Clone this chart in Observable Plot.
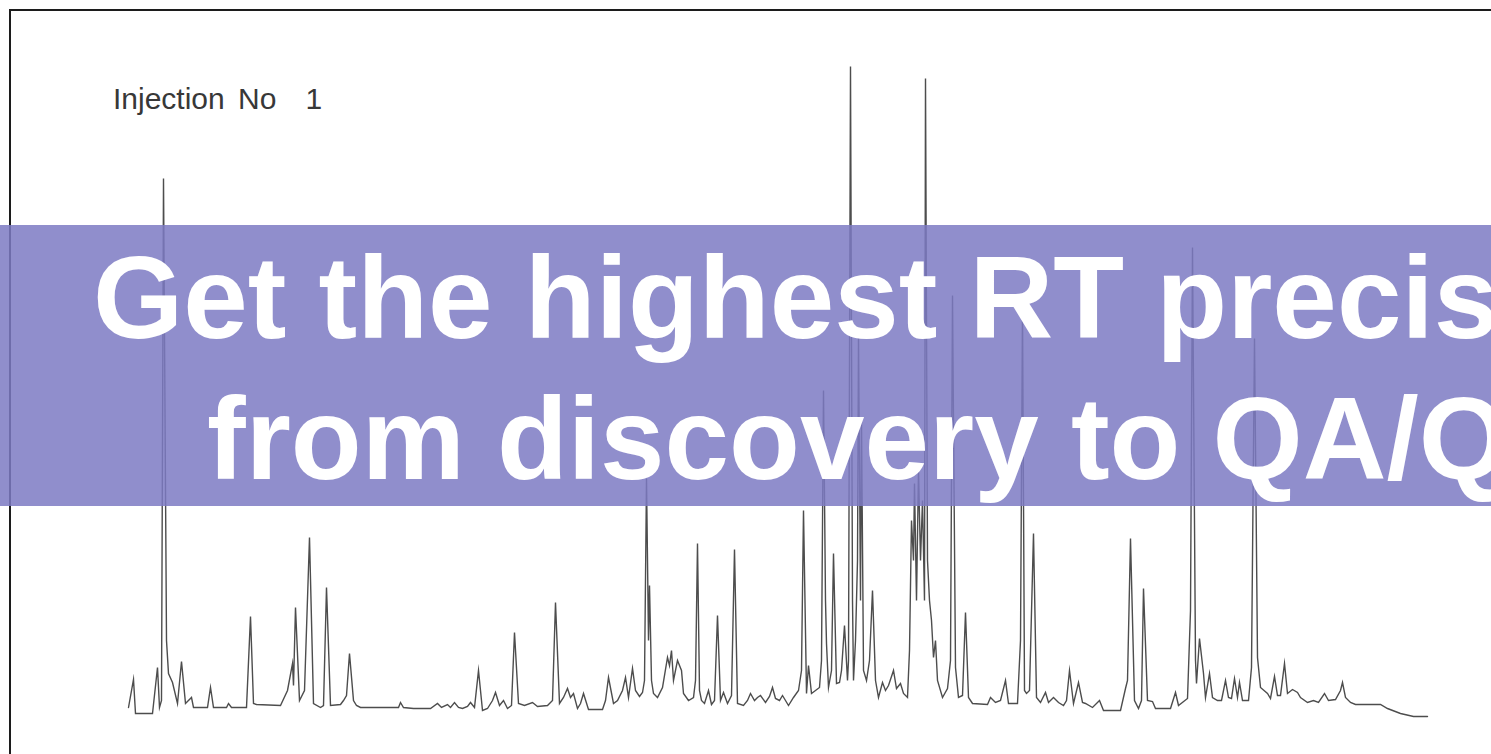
<!DOCTYPE html>
<html>
<head>
<meta charset="utf-8">
<script src="https://cdn.jsdelivr.net/npm/d3@7"></script>
<script src="https://cdn.jsdelivr.net/npm/@observablehq/plot@0.6"></script>
<style>
  html, body { margin: 0; padding: 0; background: #fff; overflow: hidden; }
  #wrap { position: relative; width: 1491px; height: 754px; overflow: hidden; }
  #chart { position: absolute; left: 0; top: 0; }
  #frame { position: absolute; left: 9px; top: 9px; width: 1600px; height: 900px;
           border-top: 2px solid #1c1c1c; border-left: 2px solid #1c1c1c; box-sizing: border-box; }
  #inj { position: absolute; left: 113px; top: 84px; font-family: "Liberation Sans", Arial, sans-serif;
         font-size: 30px; line-height: 30px; color: #383838; white-space: pre; }
  #banner { position: absolute; left: 0; top: 225px; width: 1491px; height: 281px;
            background: rgb(124,122,195); opacity: 0.85; }
  .bt { position: absolute; font-family: "Liberation Sans", Arial, sans-serif; font-weight: bold;
        font-size: 116px; line-height: 116px; color: #fff; white-space: pre; }
</style>
</head>
<body>
<div id="wrap">
  <div id="chart"></div>
  <div id="frame"></div>
  <div id="inj"></div>
  <div id="banner"></div>
  <div class="bt" id="l1"></div>
  <div class="bt" id="l2"></div>
</div>
<script>
// Retention time (min) and detector signal
const retentionTime = [
  6.40, 6.65, 6.75, 7.60, 7.85, 7.95, 8.05, 8.15, 8.30, 8.40, 8.60, 8.85, 9.05, 9.25, 9.55, 9.65,
  10.35, 10.50, 10.65, 11.30, 11.40, 11.55, 12.30, 12.50, 12.65, 12.80, 14.00, 14.35, 14.60, 14.65,
  14.75, 14.95, 15.20, 15.45, 15.65, 16.00, 16.15, 16.30, 16.50, 17.00, 17.15, 17.30, 17.45, 17.65,
  17.80, 18.00, 19.90, 20.00, 20.15, 20.65, 21.50, 21.85, 22.05, 22.35, 22.50, 22.70, 22.90, 23.10,
  23.35, 23.50, 23.70, 23.90, 24.10, 24.35, 24.60, 24.75, 24.95, 25.15, 25.35, 25.55, 25.70, 25.90,
  26.20, 26.60, 26.85, 27.35, 27.60, 27.75, 27.95, 28.15, 28.35, 28.50, 28.65, 28.85, 29.00, 29.15,
  29.40, 30.10, 30.25, 30.40, 30.65, 30.85, 31.10, 31.25, 31.40, 31.60, 31.75, 31.95, 32.10, 32.20,
  32.30, 32.40, 32.45, 32.55, 32.65, 32.85, 33.10, 33.35, 33.45, 33.55, 33.65, 33.85, 34.05, 34.15,
  34.40, 34.65, 34.75, 34.85, 34.95, 35.05, 35.20, 35.40, 35.55, 35.70, 35.85, 36.00, 36.15, 36.35,
  36.55, 36.70, 36.85, 37.15, 37.35, 37.50, 37.70, 37.85, 38.00, 38.25, 38.45, 38.60, 38.75, 38.95,
  39.10, 39.40, 39.65, 39.90, 40.05, 40.15, 40.30, 40.40, 40.55, 40.75, 40.95, 41.05, 41.15, 41.25,
  41.30, 41.40, 41.55, 41.65, 41.80, 41.95, 42.05, 42.20, 42.35, 42.40, 42.50, 42.60, 42.65, 42.75,
  42.85, 42.90, 43.00, 43.05, 43.15, 43.30, 43.45, 43.60, 43.75, 43.90, 44.10, 44.25, 44.40, 44.65,
  44.80, 45.00, 45.15, 45.35, 45.45, 45.55, 45.65, 45.70, 45.80, 45.90, 46.00, 46.10, 46.20, 46.25,
  46.35, 46.45, 46.55, 46.65, 46.75, 46.85, 47.10, 47.35, 47.50, 47.60, 47.75, 47.90, 48.10, 48.25,
  48.40, 48.60, 49.35, 49.50, 49.75, 50.00, 50.25, 50.40, 50.85, 51.00, 51.10, 51.20, 51.30, 51.45,
  51.65, 51.80, 52.00, 52.25, 52.40, 52.65, 52.90, 53.15, 53.30, 53.45, 53.65, 53.90, 54.10, 54.25,
  54.60, 54.95, 55.15, 56.00, 56.25, 56.35, 56.50, 56.70, 56.90, 57.05, 57.15, 57.35, 57.60, 57.75,
  58.50, 58.75, 58.90, 59.35, 59.50, 59.60, 59.75, 59.80, 59.95, 60.15, 60.25, 60.45, 60.60, 60.85,
  61.05, 61.25, 61.40, 61.55, 61.70, 61.85, 61.95, 62.10, 62.40, 62.55, 62.70, 62.85, 63.00, 63.35,
  63.50, 63.70, 63.85, 64.00, 64.20, 64.35, 64.60, 64.85, 65.00, 65.35, 65.65, 65.90, 66.20, 66.40,
  66.75, 67.00, 67.10, 67.25, 67.50, 67.75, 69.00, 69.35, 70.00, 70.65, 71.35
];
const signal = [
  1, 29, -5, -5, 41, 1, 8, 530, 68, 35, 26, 5, 47, 5, 11, 1,
  1, 21, 1, 1, 5, 1, 1, 92, 5, 4, 3, 18, 45, 23,
  101, 8, 18, 171, 5, 1, 3, 121, 3, 4, 8, 13, 55, 8,
  3, 1, 1, 6, 1, 0, 0, 5, 1, 4, 1, 6, 1, 0,
  2, 6, 1, 38, -2, 0, 8, 16, 3, 8, 0, 3, 76, 5,
  3, 6, 2, 3, 8, 106, 5, 11, 20, 11, 15, 0, 5, 15,
  -1, -1, 8, 31, 5, 8, 18, 31, 11, 40, 18, 12, 16, 28,
  230, 68, 123, 28, 15, 11, 21, 51, 43, 58, 28, 48, 38, 15,
  8, 11, 28, 165, 18, 8, 5, 18, 4, 8, 93, 8, 16, 5,
  13, 159, 5, 3, 8, 15, 8, 11, 13, 6, 12, 21, 10, 8,
  13, 3, 11, 18, 38, 198, 15, 43, 15, 18, 21, 48, 318, 108,
  65, 21, 38, 155, 25, 26, 38, 83, 28, 48, 642, 108, 28, 68,
  148, 371, 108, 288, 38, 28, 48, 118, 28, 11, 26, 18, 23, 38,
  20, 25, 15, 11, 58, 188, 148, 225, 108, 238, 148, 208, 108, 630,
  148, 108, 88, 51, 68, 28, 11, 20, 48, 413, 41, 11, 13, 96,
  11, 5, 4, 11, 6, 8, 28, 5, 5, 68, 401, 18, 15, 18,
  175, 11, 6, 16, 6, 11, 6, 3, 8, 38, 5, 26, 6, 5,
  1, 8, -2, -2, 20, 28, 170, 8, 0, 8, 120, 8, 7, 0,
  0, 16, 3, 10, 98, 461, 48, 25, 70, 35, 11, 35, 11, 8,
  8, 28, 11, 10, 30, 11, 26, 8, 8, 41, 370, 51, 21, 15,
  10, 32, 13, 13, 45, 15, 19, 16, 11, 6, 8, 6, 15, 8,
  9, 18, 26, 11, 6, 4, 4, 0, -5, -8, -8
];
const injectionWords = ["Injection", " No", "   1"];
const headlineLines = ["Get the highest RT precision", "from discovery to QA/QC"];

const data = retentionTime.map((t, i) => ({t, s: signal[i]}));

const chart = Plot.plot({
  width: 1491,
  height: 754,
  margin: 0,
  x: {domain: [0, 74.55], range: [0, 1491], axis: null},
  y: {domain: [0, 700], range: [708, 8], axis: null},
  marks: [
    Plot.line(data, {x: "t", y: "s", stroke: "#4d4d4d", strokeWidth: 1.4, strokeLinejoin: "miter", strokeMiterlimit: 10})
  ]
});
document.getElementById("chart").appendChild(chart);

const inj = document.getElementById("inj");
const shifts = [0, 5, 4];
injectionWords.forEach((w, i) => {
  const sp = document.createElement("span");
  sp.textContent = w;
  sp.style.marginLeft = shifts[i] + "px";
  inj.appendChild(sp);
});
const l1 = document.getElementById("l1");
l1.textContent = headlineLines[0];
l1.style.left = "93px"; l1.style.top = "240px";
const l2 = document.getElementById("l2");
l2.textContent = headlineLines[1];
l2.style.left = "207px"; l2.style.top = "381px";
</script>
</body>
</html>
